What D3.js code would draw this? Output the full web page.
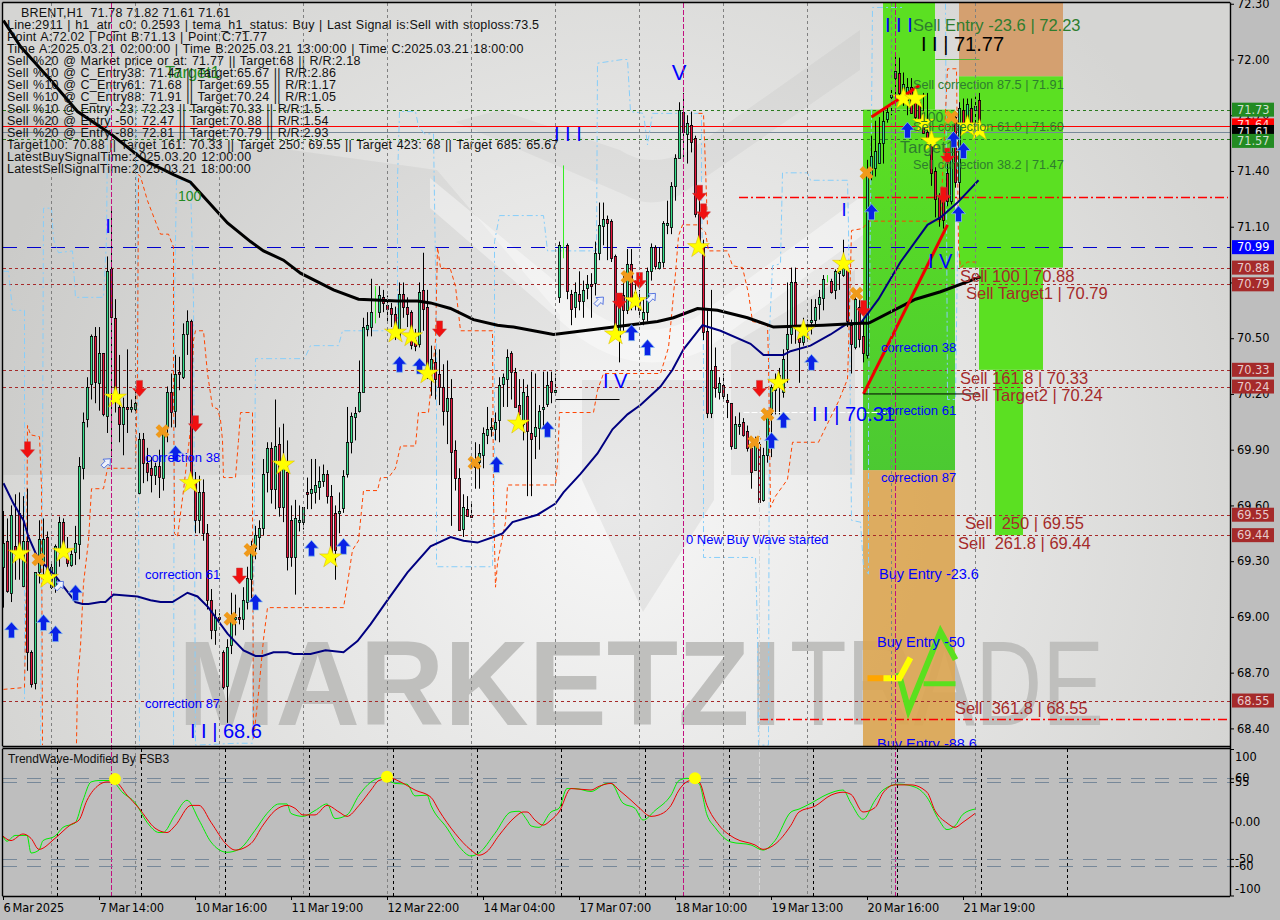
<!DOCTYPE html>
<html>
<head>
<meta charset="utf-8">
<script src="https://cdn.jsdelivr.net/npm/d3@7"></script>
<style>
html, body { margin: 0; padding: 0; background: #bebebe; overflow: hidden; }
svg { display: block; }
text { font-family: "Liberation Sans", Arial, sans-serif; }
.axis text { font-family: "DejaVu Sans", sans-serif; font-size: 11.4px; fill: #000; }
.time text { word-spacing: -1.6px; letter-spacing: -0.1px; }
</style>
</head>
<body>
<div id="chart-container"></div>
<script>
// candles, one per hour bar
var opens = [
69.27,69.41,69.13,69.38,69.56,69.17,69.41,68.81,68.64,69.24,
69.29,69.43,69.16,69.16,69.36,69.51,69.32,69.28,69.35,69.39,
69.80,70.07,70.25,70.51,70.26,70.42,70.08,70.87,70.61,70.13,
70.04,70.13,70.12,70.12,69.67,69.96,69.83,69.80,69.76,69.81,
69.75,70.02,70.21,70.11,70.32,70.29,70.52,70.59,69.72,69.52,
69.67,69.45,69.09,68.93,69.00,68.81,68.63,68.85,68.99,69.00,
68.99,69.08,69.20,69.37,69.43,69.48,69.78,69.91,69.69,69.93,
69.59,69.78,69.52,69.32,69.51,69.51,69.67,69.67,69.67,69.70,
69.73,69.77,69.65,69.56,69.56,69.59,69.77,69.94,70.08,70.11,
70.21,70.55,70.56,70.65,70.64,70.72,70.68,70.66,70.63,70.51,
70.74,70.67,70.64,70.49,70.47,70.76,70.67,70.33,70.37,70.31,
70.24,70.11,70.18,69.90,69.75,69.47,69.58,69.55,69.83,69.83,
69.87,69.98,70.01,70.01,70.06,70.25,70.28,70.42,70.32,70.14,
70.04,70.19,69.99,69.97,70.02,70.12,70.15,70.27,70.21,70.72,
71.00,71.00,70.74,70.67,70.74,70.70,70.77,70.79,70.80,70.96,
71.10,71.14,71.13,70.94,70.51,70.73,70.65,70.90,70.75,70.71,
70.60,70.64,70.86,70.99,70.88,70.91,71.11,71.10,71.32,71.47,
71.72,71.60,71.65,71.58,71.17,70.99,70.54,70.10,70.35,70.21,
70.25,70.17,70.15,69.91,70.03,70.05,70.00,69.91,69.79,69.93,
69.63,69.87,70.10,70.22,70.26,70.21,70.44,70.52,70.80,70.50,
70.48,70.54,70.59,70.60,70.68,70.72,70.82,70.81,70.76,70.85,
70.84,70.87,70.57,70.45,70.67,70.51,70.41,71.37,71.42,71.44,
71.55,71.68,71.80,71.90,71.93,71.83,71.78,71.85,71.78,71.77,
71.71,71.61,71.55,71.40,71.26,71.24,71.39,71.24,71.69,71.34,
71.73,71.66,71.74,71.73,71.78];
var highs = [
69.57,69.53,69.60,69.66,69.67,69.65,69.69,68.82,69.24,69.52,
69.53,69.46,69.30,69.39,69.54,69.53,69.43,69.36,69.49,69.86,
70.10,70.29,70.52,70.56,70.56,70.42,70.94,71.21,70.71,70.41,
70.18,70.44,70.17,70.24,69.99,69.99,69.91,69.86,69.83,69.90,
70.02,70.24,70.31,70.41,70.40,70.58,70.65,70.60,69.78,69.76,
69.74,69.50,69.15,69.04,69.02,68.82,68.88,69.13,69.12,69.05,
69.16,69.27,69.41,69.49,69.52,69.85,69.94,69.94,70.17,70.02,
70.04,69.95,69.60,69.63,69.60,69.59,69.75,69.85,69.85,69.81,
69.82,69.79,69.71,69.60,69.67,69.79,70.13,70.10,70.13,70.38,
70.61,70.64,70.82,70.78,70.78,70.76,70.73,70.69,70.67,70.80,
70.80,70.72,70.65,70.55,70.80,70.96,70.76,70.46,70.44,70.44,
70.36,70.38,70.28,69.95,69.80,69.66,69.65,69.61,69.94,69.93,
70.02,70.13,70.07,70.10,70.29,70.31,70.44,70.43,70.34,70.28,
70.28,70.25,70.32,70.31,70.14,70.32,70.32,70.32,70.31,71.02,
71.43,71.01,70.76,70.80,70.86,70.81,70.84,70.85,71.02,71.23,
71.23,71.16,71.14,70.95,70.71,70.86,70.98,70.98,70.81,70.76,
70.71,70.88,71.01,71.00,70.99,71.13,71.24,71.34,71.49,71.77,
71.82,71.70,71.72,71.59,71.30,71.03,70.65,70.76,70.45,70.29,
70.31,70.20,70.15,70.08,70.10,70.07,70.03,69.92,69.97,69.97,
69.91,70.11,70.25,70.31,70.34,70.44,70.80,70.88,70.88,70.57,
70.61,70.60,70.71,70.71,70.76,70.84,70.84,70.82,70.87,70.92,
71.03,70.88,70.60,70.73,70.71,70.60,71.46,71.59,71.67,71.69,
71.73,71.74,71.85,72.02,72.01,71.93,71.90,71.90,71.85,71.80,
71.82,71.82,71.58,71.42,71.28,71.30,71.50,71.60,71.72,71.77,
71.79,71.79,71.79,71.80,71.82];
var lows = [
69.05,69.13,69.08,69.20,69.20,69.16,68.71,68.62,68.61,69.18,
69.18,69.24,69.15,69.13,69.27,69.36,69.27,69.27,69.28,69.31,
69.74,70.02,70.17,70.15,70.11,70.08,69.99,69.86,70.10,69.94,
69.87,69.99,70.10,70.10,69.66,69.72,69.73,69.67,69.71,69.64,
69.68,69.94,70.02,70.02,70.22,70.28,70.41,69.71,69.45,69.45,
69.41,69.04,68.88,68.85,68.96,68.61,68.43,68.80,68.90,68.96,
68.93,69.04,69.09,69.31,69.36,69.44,69.67,69.61,69.58,69.54,
69.51,69.25,69.27,69.12,69.46,69.47,69.58,69.58,69.61,69.63,
69.70,69.61,69.34,69.20,69.45,69.56,69.75,69.88,69.95,70.10,
70.21,70.51,70.51,70.58,70.61,70.64,70.58,70.56,70.49,70.51,
70.61,70.56,70.44,70.43,70.45,70.54,70.28,70.19,70.17,70.14,
70.03,69.93,69.49,69.68,69.47,69.43,69.54,69.54,69.69,69.69,
69.80,69.93,69.97,69.95,69.94,70.13,70.13,70.17,70.13,70.07,
69.95,69.65,69.65,69.85,69.90,70.02,70.13,70.15,70.19,70.69,
70.93,70.71,70.57,70.61,70.65,70.61,70.71,70.61,70.73,70.92,
71.00,70.92,70.91,70.50,70.37,70.54,70.63,70.65,70.65,70.61,
70.57,70.59,70.81,70.87,70.87,70.88,71.06,71.06,71.24,71.47,
71.47,71.44,71.50,71.15,70.97,70.49,70.07,70.07,70.18,70.17,
70.16,70.07,69.90,69.91,69.98,69.97,69.89,69.69,69.79,69.61,
69.62,69.83,69.86,70.09,70.09,70.18,70.26,70.47,70.47,70.26,
70.46,70.48,70.52,70.56,70.60,70.65,70.80,70.74,70.71,70.76,
70.83,70.56,70.31,70.44,70.45,70.37,70.39,71.35,71.37,71.44,
71.44,71.66,71.70,71.80,71.75,71.75,71.70,71.72,71.68,71.64,
71.60,71.55,71.32,71.15,71.10,71.09,71.21,71.22,71.31,71.25,
71.60,71.62,71.60,71.60,71.61];
var closes = [
69.40,69.14,69.55,69.34,69.36,69.41,68.81,68.64,69.24,69.42,
69.42,69.26,69.27,69.38,69.51,69.39,69.29,69.34,69.40,69.81,
70.05,70.24,70.51,70.26,70.42,70.09,70.86,70.61,70.17,70.04,
70.13,70.12,70.13,70.15,69.96,69.83,69.78,69.76,69.81,69.75,
69.99,70.21,70.10,70.31,70.31,70.52,70.59,69.72,69.52,69.67,
69.45,69.09,68.93,69.00,68.99,68.62,68.84,68.98,69.00,68.99,
69.09,69.21,69.38,69.44,69.48,69.77,69.91,69.69,69.92,69.59,
69.81,69.32,69.32,69.53,69.52,69.59,69.66,69.69,69.71,69.73,
69.77,69.65,69.35,69.36,69.57,69.76,69.94,70.08,70.10,70.21,
70.56,70.57,70.64,70.65,70.73,70.69,70.66,70.63,70.51,70.74,
70.67,70.63,70.46,70.46,70.75,70.66,70.35,70.39,70.28,70.24,
70.11,70.18,69.89,69.75,69.47,69.59,69.54,69.54,69.81,69.88,
69.99,70.01,70.02,70.05,70.25,70.29,70.40,70.32,70.13,70.09,
70.21,70.00,69.96,70.02,70.11,70.13,70.25,70.21,70.22,71.00,
71.00,70.75,70.66,70.75,70.70,70.76,70.79,70.78,70.96,71.11,
71.14,71.12,70.93,70.52,70.67,70.65,70.90,70.71,70.71,70.65,
70.64,70.86,70.99,70.89,70.91,71.12,71.12,71.32,71.47,71.73,
71.61,71.66,71.56,71.17,70.99,70.53,70.10,70.33,70.23,70.26,
70.19,70.16,69.92,70.04,70.04,69.98,69.91,69.78,69.93,69.62,
69.87,70.09,70.24,70.28,70.30,70.39,70.52,70.80,70.55,70.48,
70.56,70.56,70.60,70.67,70.72,70.82,70.82,70.75,70.86,70.86,
70.88,70.59,70.47,70.71,70.50,70.42,71.39,71.48,71.51,71.55,
71.67,71.72,71.81,71.94,71.82,71.87,71.85,71.71,71.69,71.66,
71.60,71.57,71.39,71.25,71.14,71.14,71.24,71.58,71.34,71.74,
71.66,71.76,71.65,71.75,71.61];

// moving averages, [bar, price]
var navyMa = [[0,69.72],[2.5,69.61],[5,69.52],[6.25,69.43],[8.5,69.32],[13,69.22],[18,69.08],[19.75,69.07],[21.25,69.07],[24.25,69.08],[25.5,69.08],[27.5,69.12],[33.5,69.11],[36.75,69.09],[39.25,69.08],[42.25,69.08],[46,69.13],[48.5,69.11],[51.25,69.05],[56,68.91],[60,68.82],[63,68.79],[64.75,68.79],[67.5,68.81],[71,68.81],[72.5,68.80],[76.75,68.80],[80.5,68.82],[85,68.81],[88.5,68.87],[91.75,68.96],[96,69.09],[101,69.24],[106.75,69.38],[111.75,69.43],[115,69.41],[118.5,69.40],[122.5,69.43],[124.75,69.45],[127.25,69.51],[133.5,69.55],[138,69.61],[140,69.67],[144.25,69.77],[148.5,69.88],[152.25,70.01],[156,70.09],[159.25,70.14],[164.25,70.24],[167.25,70.33],[170,70.44],[174.75,70.57],[179.25,70.54],[186.75,70.47],[190,70.41],[195,70.41],[196.75,70.43],[201.75,70.46],[206.75,70.52],[211,70.58],[214.25,70.58],[218.75,70.71],[224.25,70.91],[231,71.11],[234.25,71.15],[238.5,71.23],[243.75,71.35]];
var blackMa = [[0,72.21],[4.25,72.07],[11.75,71.89],[18.5,71.72],[26.75,71.60],[35,71.46],[42.5,71.38],[46.75,71.34],[49.25,71.28],[56,71.12],[61.75,71.02],[65,70.97],[70,70.92],[74.25,70.85],[82.5,70.76],[88.75,70.71],[98.5,70.70],[103.5,70.70],[106.75,70.69],[111.75,70.66],[117.5,70.60],[123.5,70.57],[127.5,70.56],[137.5,70.52],[148.5,70.55],[152.5,70.56],[163.5,70.59],[167.5,70.61],[173.5,70.66],[178.5,70.65],[186,70.61],[192.5,70.56],[205,70.57],[214.25,70.58],[216.25,70.58],[228,70.71],[234.25,70.75],[244.25,70.83]];

// stepped bands
var skyBand = [
[[0,70.86],[1.25,70.86],[2.25,70.65],[5.25,70.65],[5.25,68.55]],
[[9.25,68.31],[9.75,69.79],[10,71.20],[12,71.20],[12.5,71.03],[13.75,70.96],[17.25,70.97],[18,70.72],[25,70.72],[25.75,71.03],[26,71.62],[26.25,71.86],[33,71.86],[33.5,70.97],[34,68.31]],
[[42.5,68.31],[42.75,70.71],[43.25,71.35],[46.75,71.35],[47.5,70.71],[48,68.31],[58.25,68.32],[62.25,68.32],[63,70.39],[75.25,70.39],[76.75,70.46],[83.75,70.46],[84.75,70.54],[98.5,70.54],[98.5,71.35],[99,71.72],[103,71.72],[103.75,71.64],[105.25,71.60],[107.5,71.60],[108.25,70.53],[108.25,69.27],[122.25,69.27],[122.75,69.83],[122.75,71.02],[124,71.16],[135,71.16],[136,70.97],[148.25,70.97],[148.5,71.98],[154.75,72.00],[156,72.00],[156.75,71.72],[160,71.71],[161,71.54],[162.25,71.71],[174.5,71.71],[174.5,71.35],[175,70.38],[175,69.32],[188,69.32],[188.5,68.93],[188.75,68.31],[191.25,68.31],[191.5,70.54],[192.25,70.89],[194.25,70.90],[194.75,71.39],[201,71.39],[201.75,71.35],[211,71.35],[211.25,71.10],[212,69.52],[214.25,69.51],[215,69.27],[216.25,69.23],[216.25,70.17],[217,71.69],[217.25,72.28],[225,72.28]],
[[235.5,72.30],[236,70.17],[238,70.17],[238.5,70.97]]
];
var orangeBand = [
[[0,68.61],[5.25,68.62],[5.75,69.20],[6,70.03],[6.75,69.98],[9,69.97],[9.5,69.70],[9.75,68.31]],
[[18.25,68.32],[18.5,68.65],[19.25,68.84],[20,69.18],[21.25,69.41],[22,69.69],[25,69.69],[26,69.80],[33,69.80],[33.5,70.31],[33.75,71.38],[34.25,71.37],[36,71.24],[38.5,71.10],[39.25,71.06],[41.25,71.06],[42.5,70.99],[42.5,70.31],[42.75,69.45],[43.5,69.43],[45,69.68],[46.75,70.01],[47.5,70.49],[48,70.54],[50,70.54],[51,70.31],[52.25,70.13],[53.5,70.12],[54.25,70.06],[54.75,69.95],[55,69.75],[58,69.75],[58.75,69.95],[59.25,70.10],[62.25,70.10],[62.25,69.59],[62.5,68.34],[63.75,68.59],[65,68.88],[66,69.05],[85,69.05],[86,69.18],[87.25,69.36],[88.75,69.41],[90,69.68],[93.5,69.68],[94.25,69.75],[96.25,69.75],[98,69.80],[99.25,69.92],[103,69.92],[103.75,70.10],[106.25,70.10],[108,70.49],[108.5,70.99],[109.25,70.88],[111.75,70.87],[113,70.78],[114.25,70.54],[122.25,70.54],[122.5,69.63],[123,69.16],[123.5,69.29],[125.5,69.51],[126,69.71],[138,69.71],[138.5,69.83],[139,70.10],[147.5,70.10],[148.5,70.22],[150,70.31],[164.25,70.31],[166.25,70.45],[166.75,70.56],[168,70.85],[168.75,71.05],[169.75,71.11],[173.5,71.11],[175.5,71.07],[176.25,70.97],[181,70.97],[182.25,70.89],[184.75,70.88],[186.25,70.74],[187.25,70.59],[191,70.57],[191.25,70.38],[191.75,69.59],[193,69.65],[196,69.74],[197.25,69.94],[203.75,69.94],[206,70.04],[208.75,70.16],[211,70.28],[211.25,70.44],[212,71.08],[214.75,71.09],[216.25,71.13],[234.25,71.13],[236,71.95],[238.25,71.95],[238.75,70.99],[239.25,70.88],[241,70.91],[243.75,70.91]],
[[173.75,71.71],[175,71.71],[175.5,71.42],[176,71.10]]
];

// signal markers, [bar, price]
var starSignals = [[4,69.34],[11,69.21],[15,69.35],[28,70.18],[46.75,69.72],[70,69.82],[81.75,69.32],[98,70.53],[102,70.51],[106,70.31],[128.75,70.04],[153,70.52],[158,70.70],[173.75,70.99],[200,70.54],[210,70.90],[193.75,70.26],[225,71.79],[228,71.79],[230,71.66],[232,71.56],[241,71.64],[244,71.62]];
var crossSignals = [[8.75,69.31],[39.75,70.00],[61.75,69.36],[56.75,68.99],[117.75,69.83],[156,70.83],[187.75,69.94],[191,70.09],[213.25,70.74],[215.75,71.39],[237,71.69]];
var upSignals = [[2,68.93],[10,68.97],[13,68.91],[18,69.13],[43,69.88],[63,69.08],[77,69.37],[85,69.38],[99,70.36],[104,70.35],[136,70.01],[123.25,69.82],[157,70.53],[161,70.45],[192,69.95],[195,70.06],[202,70.37],[217,71.18],[226,71.62],[238.75,71.17],[237.5,71.57],[240,71.51]];
var downSignals = [[6,69.90],[34,70.23],[48,70.04],[59,69.22],[109,70.55],[154,70.70],[159,70.81],[174,71.28],[175,71.18],[189,70.23],[215,70.66],[236,71.48],[235,71.27]];
var hollowSignals = [[25.75,69.83],[14,69.17],[149,70.70],[162,70.72]];

// target zones, [bar from, bar to, price top, price bottom]
var greenZones = [[220,233,72.31,71.73],[215,238,71.73,69.79],[239,265,71.91,70.88],[244,260,70.88,70.33],[248,255,70.33,69.44]];
var buyZones = [[215,238,69.79,68.30]];
var sellZones = [[239,265,72.31,71.91]];

// zigzag legs
var zigzagLegs = [[[217,71.69],[229,71.86]],[[215,70.20],[236,71.11]]];
var blackLegs = [[[215,70.20],[244,70.20]],[[138,70.17],[154,70.17]]];
var greenTick = [[233,72.00],[244,72.00]];
var whiteTick = [[185,70.10],[222,70.10]];
var checkMark = [[223.75,68.70],[226.25,68.50],[234.25,68.92],[238,68.77]];
var checkBar = [[230,68.64],[238,68.64]];
var swooshOrange = [[216,68.67],[220,68.67]];
var swooshYellow = [[220,68.67],[224,68.67],[226.75,68.78]];

// horizontal levels
var greenLevels = [71.73,71.57];
var brownLevels = [70.88,70.79,70.33,70.24,69.55,69.44,68.55];
var dashDotLevels = [[184,71.26],[189,68.45]];
var redLevel = 71.64;
var greyLevel = 71.61;
var blueLevel = 70.99;

// axes
var priceTicks = [72.30,72.00,71.70,71.40,71.10,70.80,70.50,70.20,69.90,69.60,69.30,69.00,68.70,68.40];
var timeBars = [0,24,48,72,96,120,144,168,192,216,240];
var timeLabels = ["6 Mar 2025","7 Mar 14:00","10 Mar 16:00","11 Mar 19:00","12 Mar 22:00","14 Mar 04:00","17 Mar 07:00","18 Mar 10:00","19 Mar 13:00","20 Mar 16:00","21 Mar 19:00"];
var gridBars = [12,33,54,75,96,117,138,159,180,201,222,243];
var subGridBars = [13,34,55,76,97,118,139,160,181,202,223,244,266];
var markBars = [27,170,223];
var paleBars = [189];

// oscillator
var oscRedBars = [0,2,5,7,9,13,17,19,21,24,26,28,31,34,38,41,43,47,49,52,56,58,62,65,68,71,73,75,78,81,84,86,89,92,94,97,99,103,107,109,113,117,119,121,124,128,130,131,133,135,137,139,142,147,149,152,154,157,159,162,164,167,169,172,174,176,179,183,188,190,193,197,199,203,207,210,212,215,218,220,223,227,231,233,236,238,240,243];
var oscRedVals = [-19,-25,-16,-22,-37,-22,-3,3,30,51,55,55,37,19,-8,-14,-5,23,23,0,-31,-38,-29,-4,16,23,19,10,10,23,14,8,23,44,57,60,56,44,34,16,-15,-38,-45,-40,-18,7,14,14,3,-4,3,14,46,44,49,53,44,30,20,8,10,23,44,57,55,23,-4,-22,-31,-37,-30,-4,14,22,37,41,38,14,20,40,51,51,41,16,-1,-7,0,12];
var oscGreenBars = [0,1,3,6,7,9,10,13,15,18,20,22,24,27,30,33,36,39,40,43,46,49,52,56,59,63,66,69,71,72,75,78,81,83,86,89,92,95,98,101,103,106,107,111,114,117,119,123,127,129,131,132,134,137,139,141,143,147,151,152,155,158,160,163,167,169,171,174,176,178,182,187,190,193,197,199,202,206,210,212,215,218,220,224,228,231,234,236,238,240,243];
var oscGreenVals = [-19,-26,-18,-18,-42,-38,-25,-19,-7,-1,30,55,57,57,40,27,0,-14,-14,10,30,3,-27,-41,-37,-11,12,25,25,12,8,16,25,5,10,37,55,61,53,52,36,37,23,-8,-33,-46,-42,-15,14,15,3,-5,-7,14,19,46,46,42,53,53,26,19,3,16,37,57,60,53,10,-7,-27,-31,-38,-25,14,18,26,38,44,26,4,30,44,52,48,34,3,-10,-5,11,18];
var oscPeakBars = [28,96,173];
var oscPeakVals = [59,62,60];
var oscLevels = [60,55,-50,-60];
var oscTicks = [100,60,55,0,-50,-60,-100];

var infoLines = [
"Line:2911 | h1_atr_c0: 0.2593 | tema_h1_status: Buy | Last Signal is:Sell with stoploss:73.5",
"Point A:72.02 | Point B:71.13 | Point C:71.77",
"Time A:2025.03.21 02:00:00 | Time B:2025.03.21 13:00:00 | Time C:2025.03.21 18:00:00",
"Sell %20 @ Market price or at: 71.77 || Target:68 || R/R:2.18",
"Sell %10 @ C_Entry38: 71.47 || Target:65.67 || R/R:2.86",
"Sell %10 @ C_Entry61: 71.68 || Target:69.55 || R/R:1.17",
"Sell %10 @ C_Entry88: 71.91 || Target:70.24 || R/R:1.05",
"Sell %10 @ Entry -23: 72.23 || Target:70.33 || R/R:1.5",
"Sell %20 @ Entry -50: 72.47 || Target:70.88 || R/R:1.54",
"Sell %20 @ Entry -88: 72.81 || Target:70.79 || R/R:2.93",
"Target100: 70.88 || Target 161: 70.33 || Target 250: 69.55 || Target 423: 68 || Target 685: 65.67",
"LatestBuySignalTime:2025.03.20 12:00:00",
"LatestSellSignalTime:2025.03.21 18:00:00"
];

var width = 1280, height = 920;
var left = 3, right = 1230, mainTop = 3, mainBottom = 746, subTop = 749, subBottom = 896;

var x = d3.scaleLinear().domain([0, 306.75]).range([left, right]);
var y = d3.scaleLinear().domain([72, 68.4]).range([59.5, 728.4]);
var yOsc = d3.scaleLinear().domain([100, -100]).range([749, 895.5]);

var svg = d3.select("#chart-container").append("svg")
    .attr("width", width)
    .attr("height", height);

var defs = svg.append("defs");
var bgGrad = defs.append("radialGradient").attr("id", "bg")
    .attr("gradientUnits", "userSpaceOnUse")
    .attr("cx", 620).attr("cy", 500).attr("r", 660);
bgGrad.append("stop").attr("offset", 0).attr("stop-color", "#f7f7f7");
bgGrad.append("stop").attr("offset", 1).attr("stop-color", "#d5d5d3");
var shade = defs.append("linearGradient").attr("id", "shade")
    .attr("x1", 0).attr("y1", 0).attr("x2", 0).attr("y2", 1);
shade.append("stop").attr("offset", 0).attr("stop-color", "#2f9f50").attr("stop-opacity", 0);
shade.append("stop").attr("offset", 1).attr("stop-color", "#2f9f50").attr("stop-opacity", 0.35);
defs.append("clipPath").attr("id", "mainClip").append("rect")
    .attr("x", left).attr("y", mainTop).attr("width", right - left).attr("height", mainBottom - mainTop);
defs.append("clipPath").attr("id", "subClip").append("rect")
    .attr("x", left).attr("y", subTop).attr("width", right - left).attr("height", subBottom - subTop);

svg.append("rect").attr("width", width).attr("height", height).attr("fill", "#bebebe");
svg.append("rect").attr("x", left).attr("y", mainTop).attr("width", right - left).attr("height", mainBottom - mainTop).attr("fill", "url(#bg)");

var main = svg.append("g").attr("clip-path", "url(#mainClip)");

// logo shapes behind the chart
var logo = main.append("g");
logo.append("path").attr("d", "M3,475 L560,475 L560,315 L437,170 L3,110 Z").attr("fill", "#000").attr("opacity", 0.045);
logo.append("path").attr("d", "M731,475 L855,475 L855,270 L731,345 Z").attr("fill", "#000").attr("opacity", 0.05);
logo.append("path").attr("d", "M582,380 L582,480 L643,612 L714,500 L714,380 Z").attr("fill", "#000").attr("opacity", 0.055);
logo.append("path").attr("d", "M430,178 L590,310 Q640,345 695,318 L1000,95 L1000,135 L705,350 Q640,380 580,338 L430,208 Z").attr("fill", "#fff").attr("opacity", 0.4);
logo.append("path").attr("d", "M455,122 L625,195 Q650,210 680,195 L860,70 L860,30 L690,150 Q650,170 620,150 L500,110 Z").attr("fill", "#000").attr("opacity", 0.035);
main.append("text").attr("x", 178).attr("y", 725).text("MARKETZI")
    .attr("font-size", 121).attr("font-weight", "bold").attr("fill", "#bfbfbd")
    .attr("textLength", 604).attr("lengthAdjust", "spacingAndGlyphs");
main.append("text").attr("x", 790).attr("y", 725).text("TRADE")
    .attr("font-size", 121).attr("fill", "#bfbfbd")
    .attr("textLength", 314).attr("lengthAdjust", "spacingAndGlyphs");

function drawZones(zones, color, opacity) {
    main.selectAll(null)
        .data(zones)
        .enter().append("rect")
        .attr("x", function (d) { return x(d[0]); })
        .attr("width", function (d) { return x(d[1]) - x(d[0]); })
        .attr("y", function (d) { return y(d[2]); })
        .attr("height", function (d) { return y(d[3]) - y(d[2]); })
        .attr("fill", color)
        .attr("opacity", opacity);
}
drawZones(greenZones, "#58df1e", 0.98);
drawZones(buyZones, "#dba654", 0.92);
drawZones(sellZones, "#d4a070", 1);
// the left green block darkens towards its foot
main.append("rect")
    .attr("x", x(215)).attr("width", x(238) - x(215))
    .attr("y", y(71.73)).attr("height", y(69.79) - y(71.73))
    .attr("fill", "url(#shade)");

var priceLine = d3.line()
    .x(function (d) { return x(d[0]) + 0.5; })
    .y(function (d) { return y(d[1]); });

function drawPath(target, pts, color, w, dash) {
    return target.append("path")
        .attr("d", priceLine(pts))
        .attr("fill", "none")
        .attr("stroke", color)
        .attr("stroke-width", w)
        .attr("stroke-dasharray", dash || null);
}

// vertical grid
gridBars.forEach(function (b) {
    svg.append("line").attr("x1", x(b) + 0.5).attr("x2", x(b) + 0.5).attr("y1", mainTop).attr("y2", subBottom)
        .attr("stroke", "#808080").attr("stroke-dasharray", "3,3");
});
paleBars.forEach(function (b) {
    svg.append("line").attr("x1", x(b) + 0.5).attr("x2", x(b) + 0.5).attr("y1", 430).attr("y2", subBottom)
        .attr("stroke", "#d8d8d8").attr("stroke-dasharray", "5,2");
});
// horizontal levels
function levelLine(p, color, dash, w) {
    var py = Math.round(y(p)) + 0.5;
    main.append("line").attr("x1", left).attr("x2", right).attr("y1", py).attr("y2", py)
        .attr("stroke", color).attr("stroke-width", w || 1).attr("stroke-dasharray", dash || null);
}
greenLevels.forEach(function (p) { levelLine(p, "#2a7a1e", "3,3"); });
brownLevels.forEach(function (p) { levelLine(p, "#a52a2a", "3,3"); });
levelLine(blueLevel, "#0000cd", "14,10");
levelLine(greyLevel, "#778899", null);
levelLine(redLevel, "#ff0000", null);
dashDotLevels.forEach(function (d) {
    var py = Math.round(y(d[1])) + 0.5;
    main.append("line").attr("x1", x(d[0])).attr("x2", right - 2).attr("y1", py).attr("y2", py)
        .attr("stroke", "#ff0000").attr("stroke-width", 1.3).attr("stroke-dasharray", "9,3,2,3");
});

// bands
skyBand.forEach(function (s) { drawPath(main, s, "#87cefa", 1, "6,3,2,3"); });
orangeBand.forEach(function (s) { drawPath(main, s, "#ff4500", 1, "4,3"); });

// mark lines through both windows
markBars.forEach(function (b) {
    svg.append("line").attr("x1", x(b) + 0.5).attr("x2", x(b) + 0.5).attr("y1", mainTop).attr("y2", subBottom)
        .attr("stroke", "#c0107f").attr("stroke-dasharray", "5,2");
});

// candles
var bars = d3.range(opens.length);
var candles = main.append("g");
candles.selectAll("line")
    .data(bars)
    .enter().append("line")
    .attr("x1", function (i) { return x(i) + 0.5; })
    .attr("x2", function (i) { return x(i) + 0.5; })
    .attr("y1", function (i) { return y(highs[i]); })
    .attr("y2", function (i) { return y(lows[i]); })
    .attr("stroke", function (i) { return opens[i] === closes[i] ? "#33ee22" : "#000"; });
candles.selectAll("rect")
    .data(bars.filter(function (i) { return opens[i] !== closes[i]; }))
    .enter().append("rect")
    .attr("x", function (i) { return x(i) - 0.6; })
    .attr("width", 2.2)
    .attr("y", function (i) { return Math.round(y(Math.max(opens[i], closes[i]))) + 0.5; })
    .attr("height", function (i) { return Math.max(2, Math.round(Math.abs(y(opens[i]) - y(closes[i])))); })
    .attr("fill", function (i) { return closes[i] > opens[i] ? "#36e08c" : "#e8143c"; })
    .attr("stroke", "#000")
    .attr("stroke-width", 0.8);

// averages and legs
drawPath(main, navyMa, "#000080", 2);
drawPath(main, blackMa, "#000", 3);
zigzagLegs.forEach(function (s) { drawPath(main, s, "#f00000", 3); });
blackLegs.forEach(function (s) { drawPath(main, s, "#000", 1); });
drawPath(main, greenTick, "#55bb33", 1);
drawPath(main, whiteTick, "#ffffff", 1, "6,2");

// marker layer
function place(d) { return "translate(" + (x(d[0]) + 0.5) + "," + y(d[1]) + ")"; }
var arrowUp = "M0,-8 L7,0 L3,0 L3,8 L-3,8 L-3,0 L-7,0 Z";
var arrowDown = "M0,8 L7,0 L3,0 L3,-8 L-3,-8 L-3,0 L-7,0 Z";
main.selectAll(null).data(upSignals).enter().append("path")
    .attr("d", arrowUp).attr("transform", place)
    .attr("fill", "#0a22e6").attr("stroke", "#8ec6ea").attr("stroke-width", 0.7);
main.selectAll(null).data(downSignals).enter().append("path")
    .attr("d", arrowDown).attr("transform", place)
    .attr("fill", "#f01010").attr("stroke", "#c04040").attr("stroke-width", 0.5);
main.selectAll(null).data(hollowSignals).enter().append("path")
    .attr("d", arrowUp).attr("transform", function (d) { return place(d) + " rotate(45) scale(0.7)"; })
    .attr("fill", "#eef2fa").attr("stroke", "#4466dd").attr("stroke-width", 1.2);
main.selectAll(null).data(crossSignals).enter().append("path")
    .attr("d", d3.symbol().type(d3.symbolCross).size(120))
    .attr("transform", function (d) { return place(d) + " rotate(45)"; })
    .attr("fill", "#f09a1a");
main.selectAll(null).data(starSignals).enter().append("path")
    .attr("d", d3.symbol().type(d3.symbolStar).size(150))
    .attr("transform", place)
    .attr("fill", "#ffff00").attr("stroke", "#d8b400").attr("stroke-width", 0.5);

// check mark at the bottom of the zone
drawPath(main, checkMark, "#5ae01e", 6);
drawPath(main, checkBar, "#5ae01e", 5);
drawPath(main, swooshOrange, "#ffa500", 6);
drawPath(main, swooshYellow, "#ffff00", 6);

// on-chart text
function note(px, py, str, size, color, anchor) {
    return main.append("text").attr("x", px).attr("y", py).text(str)
        .attr("font-size", size).attr("fill", color)
        .attr("dominant-baseline", "central")
        .attr("text-anchor", anchor || "start")
        .attr("xml:space", "preserve");
}
var waveBlue = "#0000ff", brown = "#a52a2a", darkGreen = "#2e7d2e";
note(165, 72, "Target1", 16.5, "#228b22");
note(178, 196, "100", 14, "#228b22");
note(108, 226, "I", 20, waveBlue, "middle");
note(679, 72, "V", 22, waveBlue, "middle");
note(554, 134, "I I I", 20, waveBlue);
note(603, 381, "I V", 20, waveBlue);
note(844, 210, "I", 18, waveBlue, "middle");
note(928, 261, "I V", 20, waveBlue);
note(812, 414, "I I | 70.31", 20, waveBlue);
note(190, 731, "I I | 68.6", 20, waveBlue);
note(885, 25, "I I I", 20, waveBlue);
note(921, 44, "I I | 71.77", 20, "#000");
note(913, 25, "Sell Entry -23.6 | 72.23", 16.5, darkGreen);
note(913, 85, "Sell correction 87.5 | 71.91", 12.7, darkGreen);
note(913, 127, "Sell correction 61.0 | 71.60", 12.7, darkGreen);
note(913, 165, "Sell correction 38.2 | 71.47", 12.7, darkGreen);
note(920, 117, "100", 14, darkGreen);
note(900, 147, "Target1", 16.5, darkGreen);
note(960, 276, "Sell 100 | 70.88", 16.5, brown);
note(966, 293, "Sell Target1 | 70.79", 16.5, brown);
note(960, 378, "Sell 161.8 | 70.33", 16.5, brown);
note(961, 395, "Sell Target2 | 70.24", 16.5, brown);
note(965, 523, "Sell  250 | 69.55", 16.5, brown);
note(958, 543, "Sell  261.8 | 69.44", 16.5, brown);
note(955, 708, "Sell  361.8 | 68.55", 16.5, brown);
note(145, 457, "correction 38", 13, waveBlue);
note(145, 574, "correction 61", 13, waveBlue);
note(145, 703, "correction 87", 13, waveBlue);
note(881, 347, "correction 38", 13, waveBlue);
note(881, 410, "correction 61", 13, waveBlue);
note(881, 477, "correction 87", 13, waveBlue);
note(686, 539, "0 New Buy Wave started", 13, waveBlue);
note(879, 574, "Buy Entry -23.6", 14.5, waveBlue);
note(877, 642, "Buy Entry -50", 14.5, waveBlue);
note(877, 744, "Buy Entry -88.6", 14.5, waveBlue);

// header block
note(21, 12.5, "BRENT,H1  71.78 71.82 71.61 71.61", 12.5, "#111").style("letter-spacing", "0.2px");
infoLines.forEach(function (t, i) {
    note(7, 25 + i * 12, t, 12.5, "#111")
        .style("letter-spacing", "0.2px")
        .style("word-spacing", "0.8px");
});

// oscillator window
var sub = svg.append("g").attr("clip-path", "url(#subClip)");
subGridBars.forEach(function (b) {
    sub.append("line").attr("x1", x(b) + 0.5 + (b === 266 ? 0 : 2)).attr("x2", x(b) + 0.5 + (b === 266 ? 0 : 2))
        .attr("y1", subTop).attr("y2", subBottom)
        .attr("stroke", "#000").attr("stroke-dasharray", "3,3");
});
oscLevels.forEach(function (v) {
    sub.append("line").attr("x1", left).attr("x2", right)
        .attr("y1", Math.round(yOsc(v)) + 0.5).attr("y2", Math.round(yOsc(v)) + 0.5)
        .attr("stroke", "#778899").attr("stroke-dasharray", "14,10");
});
var oscLine = d3.line()
    .curve(d3.curveMonotoneX)
    .x(function (d) { return x(d[0]); })
    .y(function (d) { return yOsc(d[1]); });
sub.append("path")
    .attr("d", oscLine(oscGreenBars.map(function (b, i) { return [b, oscGreenVals[i]]; })))
    .attr("fill", "none").attr("stroke", "#00ee00");
sub.append("path")
    .attr("d", oscLine(oscRedBars.map(function (b, i) { return [b, oscRedVals[i]]; })))
    .attr("fill", "none").attr("stroke", "#ee0000");
sub.selectAll("circle")
    .data(oscPeakBars)
    .enter().append("circle")
    .attr("cx", function (b) { return x(b); })
    .attr("cy", function (b, i) { return yOsc(oscPeakVals[i]); })
    .attr("r", 6)
    .attr("fill", "#ffff00");
svg.append("text").attr("x", 8).attr("y", 759).text("TrendWave-Modified By FSB3")
    .attr("font-size", 12).attr("fill", "#111").attr("dominant-baseline", "central");

// frame
[[2.5, 2.5, 2.5, mainBottom], [2.5, 2.5, right, 2.5], [2.5, mainBottom + 0.5, right, mainBottom + 0.5],
 [2.5, subTop - 0.5, right, subTop - 0.5], [2.5, subTop, 2.5, subBottom], [2.5, subBottom + 0.5, right, subBottom + 0.5],
 [right + 0.5, 2.5, right + 0.5, subBottom]].forEach(function (s) {
    svg.append("line").attr("x1", s[0]).attr("y1", s[1]).attr("x2", s[2]).attr("y2", s[3])
        .attr("stroke", "#000").attr("stroke-width", 1.4);
});

// price axis
var yAxis = d3.axisRight(y).tickValues(priceTicks).tickFormat(d3.format(".2f")).tickSize(4).tickPadding(3);
var gy = svg.append("g").attr("class", "axis").attr("transform", "translate(" + right + ",0)").call(yAxis);
gy.select(".domain").remove();

// oscillator axis, end labels pulled inside the window
var oscAxis = d3.axisRight(yOsc).tickValues(oscTicks)
    .tickFormat(function (v) { return v === 0 ? "0.00" : String(v); }).tickSize(4).tickPadding(1);
var gs = svg.append("g").attr("class", "axis").attr("transform", "translate(" + right + ",0)").call(oscAxis);
gs.select(".domain").remove();
gs.selectAll(".tick text").attr("dy", function (v) { return v === 100 ? "1em" : v === -100 ? "-0.3em" : "0.32em"; });

// time axis
var xAxis = d3.axisBottom(x).tickValues(timeBars)
    .tickFormat(function (b, i) { return timeLabels[i]; }).tickSize(4).tickPadding(4);
var gx = svg.append("g").attr("class", "axis time").attr("transform", "translate(0," + subBottom + ")").call(xAxis);
gx.select(".domain").remove();
gx.selectAll(".tick text").attr("text-anchor", "start");

// price tags on the right edge
function tag(p, bg, fg, offset) {
    var py = y(p) + (offset || 0);
    svg.append("rect").attr("x", 1232).attr("y", py - 7).attr("width", 42).attr("height", 14).attr("fill", bg);
    svg.append("text").attr("x", 1237).attr("y", py).text(d3.format(".2f")(p))
        .style("font-family", "DejaVu Sans").attr("font-size", 11.4).attr("fill", fg)
        .attr("dominant-baseline", "central");
}
tag(redLevel, "#ff0000", "#ffd8d8", -1);
tag(greyLevel, "#000000", "#e8e8e8");
greenLevels.forEach(function (p) { tag(p, "#228b22", "#cfe0cf", p === 71.57 ? 1.5 : 0); });
tag(blueLevel, "#0000ff", "#ffffff");
brownLevels.forEach(function (p) { tag(p, "#a52a2a", "#e8cccc"); });
</script>
</body>
</html>
